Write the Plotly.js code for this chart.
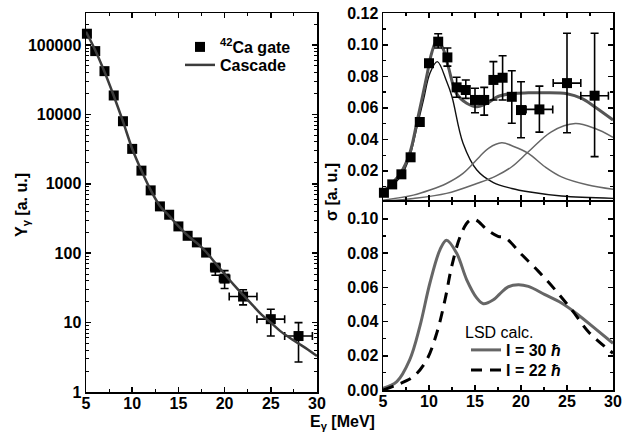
<!DOCTYPE html>
<html>
<head>
<meta charset="utf-8">
<script src="https://cdn.plot.ly/plotly-3.0.1.min.js"></script>
<style>html,body{margin:0;padding:0;background:#fff;}#chart{width:637px;height:438px;}</style>
</head>
<body>
<div id="chart"></div>
<script>
// ---- Left panel: yield spectrum (42Ca gate) ----
const yieldE = [5.1, 6, 7, 8, 9, 10, 11, 12, 13, 14, 15, 16, 17, 18, 19, 20, 22, 25, 28];
const yieldY = [145000, 81500, 41900, 18700, 7960, 3180, 1545, 803, 472, 358, 243, 178, 143, 102, 62, 43, 23.7, 11.2, 6.4];
const yieldErrUp = [0, 0, 0, 0, 0, 0, 0, 0, 0, 0, 0, 0, 0, 0, 8, 13, 6, 4.4, 3.6];
const yieldErrDn = [0, 0, 0, 0, 0, 0, 0, 0, 0, 0, 0, 0, 0, 0, 14, 12, 5.7, 4.8, 3.7];
const yieldErrE = [0, 0, 0, 0, 0, 0, 0, 0, 0, 0, 0, 0, 0, 0, 0.5, 0.55, 1.5, 1.5, 1.5];
const cascadeE = [5, 6, 7, 8, 9, 10, 11, 12, 13, 14, 15, 16, 17, 18, 19, 20, 21, 22, 23, 24, 25, 26, 27, 28, 29, 30];
const cascadeY = [155000, 84000, 41000, 18500, 7900, 3200, 1550, 810, 480, 345, 245, 180, 140, 104, 72, 50, 35, 25, 18, 13, 10, 7.6, 6.1, 5.0, 4.1, 3.3];

// ---- Top right: extracted sigma with GDR components ----
const sigE = [5.1, 6, 7, 8, 9, 10, 11, 12, 13, 14, 15, 16, 17, 18, 19, 20, 22, 25, 28];
const sigY = [0.0061, 0.0114, 0.0178, 0.0286, 0.051, 0.0883, 0.102, 0.092, 0.073, 0.0713, 0.065, 0.065, 0.0777, 0.0791, 0.067, 0.0586, 0.059, 0.0757, 0.0677];
const sigErrUp = [0, 0, 0, 0, 0, 0, 0.005, 0.006, 0.0064, 0.0064, 0.0074, 0.008, 0.0116, 0.014, 0.0165, 0.018, 0.0148, 0.0316, 0.0396];
const sigErrDn = [0, 0, 0, 0, 0, 0, 0.004, 0.0055, 0.0063, 0.0053, 0.0081, 0.0096, 0.0127, 0.0141, 0.0168, 0.0176, 0.0144, 0.0315, 0.0387];
const sigErrE = [0, 0, 0, 0, 0, 0, 0, 0, 0, 0, 0, 0, 0, 0, 0, 0, 1.45, 1.5, 1.5];
const sumE = [5, 5.8, 6.9, 7.9, 8.7, 9.75, 10.3, 10.85, 11.5, 12.1, 13, 14.1, 15.2, 16.3, 17.5, 19, 20.8, 22.6, 25, 26.6, 28, 30];
const sumY = [0.0067, 0.011, 0.0184, 0.031, 0.0512, 0.080, 0.095, 0.1026, 0.098, 0.086, 0.069, 0.0629, 0.0607, 0.0629, 0.0672, 0.069, 0.0695, 0.0696, 0.069, 0.066, 0.0607, 0.0523];
const comp1E = [5, 5.8, 6.9, 7.9, 8.7, 9.4, 10.1, 10.9, 11.9, 12.5, 13.7, 15.2, 17, 19, 20.8, 24.4, 30];
const comp1Y = [0.0057, 0.010, 0.0162, 0.029, 0.048, 0.065, 0.082, 0.0893, 0.077, 0.067, 0.0375, 0.0205, 0.0125, 0.0088, 0.0067, 0.004, 0.0025];
const comp2E = [5, 8.3, 10.1, 11.9, 13.7, 15.5, 16.5, 17.9, 19.2, 20.8, 22.6, 24.4, 27.3, 30];
const comp2Y = [0.0014, 0.0046, 0.0078, 0.012, 0.0184, 0.029, 0.0345, 0.0378, 0.0355, 0.0311, 0.0226, 0.0162, 0.011, 0.0083];
const comp3E = [5, 8.3, 11.9, 15.2, 17.2, 19, 20.8, 23.3, 25.9, 28, 30];
const comp3Y = [0.0008, 0.0025, 0.0057, 0.012, 0.0165, 0.0226, 0.0321, 0.0448, 0.050, 0.047, 0.0413];

// ---- Bottom right: LSD calculations ----
const lsd30E = [5, 6.5, 7.9, 9.0, 10.1, 11.2, 11.9, 13.0, 14.1, 15.2, 15.9, 17.0, 17.7, 18.6, 19.7, 20.8, 22.6, 24.4, 26.2, 28, 30];
const lsd30Y = [0.001, 0.0049, 0.0176, 0.037, 0.0625, 0.082, 0.0875, 0.080, 0.0644, 0.0537, 0.0504, 0.0527, 0.0562, 0.0602, 0.0615, 0.0605, 0.0557, 0.0508, 0.044, 0.0361, 0.0273];
const lsd22E = [5, 6.5, 8.3, 9.75, 10.84, 11.74, 12.47, 13.4, 14.3, 15.0, 16.3, 17.5, 18.3, 20.1, 21.9, 23.7, 25.5, 27.3, 29.1, 30];
const lsd22Y = [0.0, 0.003, 0.0078, 0.0176, 0.0332, 0.0527, 0.0722, 0.0898, 0.0986, 0.0996, 0.0937, 0.0898, 0.0889, 0.079, 0.0693, 0.0586, 0.0469, 0.0342, 0.0254, 0.0215];

const W = 637, H = 438;
const FONT = 'Liberation Sans, Arial, Helvetica, sans-serif';
const px = v => v / W;
const py = v => 1 - v / H;

const traces = [
  {x: yieldE, y: yieldY, xaxis: 'x', yaxis: 'y', type: 'scatter', mode: 'markers',
   name: '<sup>42</sup>Ca gate', legend: 'legend', cliponaxis: false,
   marker: {symbol: 'square', size: 10, color: '#000'},
   error_y: {type: 'data', symmetric: false, array: yieldErrUp, arrayminus: yieldErrDn, color: '#000', thickness: 1.6, width: 4},
   error_x: {type: 'data', array: yieldErrE, color: '#000', thickness: 1.6, width: 4}},
  {x: cascadeE, y: cascadeY, xaxis: 'x', yaxis: 'y', type: 'scatter', mode: 'lines',
   name: 'Cascade', legend: 'legend3', line: {color: '#3c3c3c', width: 2.5, shape: 'spline'}},

  {x: comp1E, y: comp1Y, xaxis: 'x2', yaxis: 'y2', mode: 'lines', showlegend: false,
   line: {color: '#111', width: 1.4, shape: 'spline'}},
  {x: comp2E, y: comp2Y, xaxis: 'x2', yaxis: 'y2', mode: 'lines', showlegend: false,
   line: {color: '#666', width: 1.5, shape: 'spline'}},
  {x: comp3E, y: comp3Y, xaxis: 'x2', yaxis: 'y2', mode: 'lines', showlegend: false,
   line: {color: '#666', width: 1.5, shape: 'spline'}},
  {x: sumE, y: sumY, xaxis: 'x2', yaxis: 'y2', mode: 'lines', showlegend: false,
   line: {color: '#555', width: 3, shape: 'spline'}},
  {x: sigE, y: sigY, xaxis: 'x2', yaxis: 'y2', mode: 'markers', showlegend: false, cliponaxis: false,
   marker: {symbol: 'square', size: 10, color: '#000'},
   error_y: {type: 'data', symmetric: false, array: sigErrUp, arrayminus: sigErrDn, color: '#000', thickness: 1.6, width: 4},
   error_x: {type: 'data', array: sigErrE, color: '#000', thickness: 1.6, width: 4}},

  {x: lsd30E, y: lsd30Y, xaxis: 'x3', yaxis: 'y3', mode: 'lines', name: 'I = 30 <i>ħ</i>', legend: 'legend2',
   line: {color: '#666', width: 3, shape: 'spline'}},
  {x: lsd22E, y: lsd22Y, xaxis: 'x3', yaxis: 'y3', mode: 'lines', name: 'I = 22 <i>ħ</i>', legend: 'legend4',
   line: {color: '#000', width: 3, shape: 'spline', dash: '11px,8px'}}
];

const tickFont = {family: FONT, size: 16, color: '#000', weight: 'bold'};
function ax(extra) {
  return Object.assign({
    showline: true, linecolor: '#000', linewidth: 1.5, mirror: 'ticks',
    ticks: 'inside', ticklen: 5, tickwidth: 1.5, tickcolor: '#000',
    showgrid: false, zeroline: false, tickfont: tickFont, fixedrange: true
  }, extra);
}
const legFont = {family: FONT, size: 16, color: '#000', weight: 'bold'};
function leg(x, y) {
  return {x: px(x), y: py(y), xanchor: 'left', yanchor: 'top', bgcolor: 'rgba(0,0,0,0)',
    font: legFont, tracegroupgap: 0, itemwidth: 30};
}

const layout = {
  width: W, height: H, margin: {l: 0, r: 0, t: 0, b: 0},
  paper_bgcolor: '#fff', plot_bgcolor: '#fff',
  font: {family: FONT, color: '#000'},
  xaxis: ax({domain: [px(86), px(317)], range: [5, 30], dtick: 5, tick0: 5, anchor: 'y', ticklabelstandoff: -4,
    minor: {dtick: 2.5, ticks: 'inside', ticklen: 3, tickwidth: 1.2, tickcolor: '#000'}}),
  yaxis: ax({domain: [py(392), py(13)], type: 'log', range: [0, 5.46], dtick: 1, tickformat: 'd', anchor: 'x',
    minor: {dtick: 'D1', ticks: 'inside', ticklen: 3, tickwidth: 1, tickcolor: '#000'}}),
  xaxis2: ax({domain: [px(383), px(613)], range: [5, 30], dtick: 5, tick0: 5, anchor: 'y2', showticklabels: false,
    minor: {dtick: 2.5, ticks: 'inside', ticklen: 3, tickwidth: 1.2, tickcolor: '#000'}}),
  yaxis2: ax({domain: [py(200), py(13.3)], range: [0.0015, 0.12], dtick: 0.02, tick0: 0, tickformat: '.2f', anchor: 'x2',
    minor: {dtick: 0.01, ticks: 'inside', ticklen: 3, tickwidth: 1.2, tickcolor: '#000'}}),
  xaxis3: ax({domain: [px(383), px(613)], range: [5, 30], dtick: 5, tick0: 5, anchor: 'y3', ticklabelstandoff: -4,
    minor: {dtick: 2.5, ticks: 'inside', ticklen: 3, tickwidth: 1.2, tickcolor: '#000'}}),
  yaxis3: ax({domain: [py(390), py(201.7)], range: [0, 0.11], dtick: 0.02, tick0: 0, tickformat: '.2f', anchor: 'x3',
    minor: {dtick: 0.01, ticks: 'inside', ticklen: 3, tickwidth: 1.2, tickcolor: '#000'}}),
  legend: leg(180, 30),
  legend3: leg(180, 48),
  legend2: leg(466, 333),
  legend4: leg(466, 353),
  annotations: [
    {text: 'Y<sub>γ</sub> [a. u.]', x: px(23), y: py(205), xref: 'paper', yref: 'paper', textangle: -90,
     xanchor: 'center', yanchor: 'middle',
     showarrow: false, font: {family: FONT, size: 16, color: '#000', weight: 'bold'}},
    {text: 'σ [a. u.]', x: px(331), y: py(192), xref: 'paper', yref: 'paper', textangle: -90,
     xanchor: 'center', yanchor: 'middle',
     showarrow: false, font: {family: FONT, size: 16, color: '#000', weight: 'bold'}},
    {text: 'E<sub>γ</sub> [MeV]', x: px(342), y: py(422), xref: 'paper', yref: 'paper',
     xanchor: 'center', yanchor: 'middle',
     showarrow: false, font: {family: FONT, size: 16, color: '#000', weight: 'bold'}},
    {text: 'LSD calc.', x: px(463), y: py(332), xref: 'paper', yref: 'paper',
     xanchor: 'left', yanchor: 'middle',
     showarrow: false, font: {family: FONT, size: 16, color: '#000'}}
  ]
};

Plotly.newPlot('chart', traces, layout, {staticPlot: true, displayModeBar: false});
</script>
</body>
</html>
